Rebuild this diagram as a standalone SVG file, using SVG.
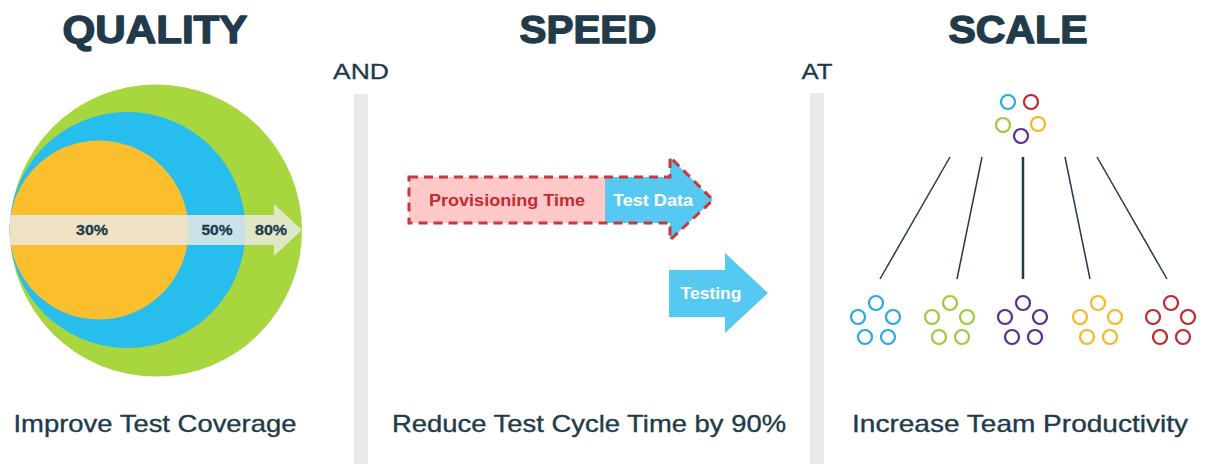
<svg xmlns="http://www.w3.org/2000/svg" width="1206" height="464" viewBox="0 0 1206 464">
<style>
.title{font-family:"Liberation Sans",Arial,sans-serif;font-weight:bold;font-size:39px;fill:#213B4B;stroke:#213B4B;stroke-width:1.4;stroke-linejoin:round;text-anchor:middle}
.conj{font-family:"Liberation Sans",Arial,sans-serif;font-size:22px;fill:#213B4B;stroke:#213B4B;stroke-width:0.3;text-anchor:middle}
.cap{font-family:"Liberation Sans",Arial,sans-serif;font-size:24px;fill:#213B4B;stroke:#213B4B;stroke-width:0.35;text-anchor:middle}
.pct{font-family:"Liberation Sans",Arial,sans-serif;font-weight:bold;font-size:14px;fill:#213B4B;stroke:#213B4B;stroke-width:0.3;text-anchor:middle}
.lbl{font-family:"Liberation Sans",Arial,sans-serif;font-weight:bold;font-size:16px;text-anchor:middle}
.sep{fill:#E8E9EA}
.ln{stroke:#213B4B;stroke-width:1.5;fill:none}
.c{fill:none;stroke-width:2.2}
.cb{stroke:#29A9E1}.cg{stroke:#9BCB3C}.cp{stroke:#5B2D90}.cy{stroke:#FBB624}.cr{stroke:#C1272D}
</style>
<defs>
<g id="pent">
<circle cx="0" cy="0" r="7"/>
<circle cx="-18" cy="14" r="7"/>
<circle cx="17" cy="14" r="7"/>
<circle cx="-11" cy="34" r="7"/>
<circle cx="12" cy="34" r="7"/>
</g>
</defs>
<rect width="1206" height="464" fill="#ffffff"/>

<g id="titles">
<text class="title" x="155" y="43" textLength="185" lengthAdjust="spacingAndGlyphs">QUALITY</text>
<text class="title" x="588" y="43" textLength="137" lengthAdjust="spacingAndGlyphs">SPEED</text>
<text class="title" x="1018" y="43" textLength="139" lengthAdjust="spacingAndGlyphs">SCALE</text>
<text class="conj" x="361" y="79" textLength="56" lengthAdjust="spacingAndGlyphs">AND</text>
<text class="conj" x="817" y="79" textLength="31" lengthAdjust="spacingAndGlyphs">AT</text>
</g>

<g id="separators">
<rect class="sep" x="354" y="94" width="14" height="370"/>
<rect class="sep" x="810" y="93" width="14" height="371"/>
</g>

<g id="quality">
<circle cx="156" cy="230.5" r="146" fill="#A8D63F"/>
<circle cx="127.5" cy="230" r="118" fill="#27BEEE"/>
<circle cx="99" cy="230" r="89.5" fill="#FBBE2C"/>
<path d="M10,215 H274 V204 L302,230 L274,256 V245 H10 Z" fill="#EBEAE5" fill-opacity="0.82"/>
<text class="pct" x="92" y="235" textLength="32" lengthAdjust="spacingAndGlyphs">30%</text>
<text class="pct" x="217" y="235" textLength="31" lengthAdjust="spacingAndGlyphs">50%</text>
<text class="pct" x="271" y="235" textLength="32" lengthAdjust="spacingAndGlyphs">80%</text>
<text class="cap" x="155" y="432" textLength="283" lengthAdjust="spacingAndGlyphs">Improve Test Coverage</text>
</g>

<g id="speed">
<rect x="409" y="177" width="196" height="46" fill="#FFC9CA"/>
<path d="M605,177 H670 V157 L713,200 L670,240 V223 H605 Z" fill="#55C9F2"/>
<path d="M409,177 H670 V157 L713,200 L670,240 V223 H409 Z" fill="none" stroke="#C9373F" stroke-width="3" stroke-dasharray="9,6"/>
<text class="lbl" x="507" y="206" fill="#C8282F" textLength="156" lengthAdjust="spacingAndGlyphs">Provisioning Time</text>
<text class="lbl" x="653" y="206" fill="#ffffff" textLength="80" lengthAdjust="spacingAndGlyphs">Test Data</text>
</g>

<g id="testing">
<path d="M669,270 H725 V253 L768,293 L725,333 V317 H669 Z" fill="#55C9F2"/>
<text class="lbl" x="711" y="299" fill="#ffffff" textLength="61" lengthAdjust="spacingAndGlyphs">Testing</text>
<text class="cap" x="589" y="432" textLength="394" lengthAdjust="spacingAndGlyphs">Reduce Test Cycle Time by 90%</text>
</g>

<g id="team-top">
<circle class="c cb" cx="1008" cy="102" r="7"/>
<circle class="c cr" cx="1031" cy="102" r="7"/>
<circle class="c cg" cx="1003" cy="125" r="7"/>
<circle class="c cy" cx="1038" cy="124" r="7"/>
<circle class="c cp" cx="1021" cy="136" r="7"/>
</g>

<g id="connectors">
<line class="ln" x1="950" y1="157" x2="880" y2="279"/>
<line class="ln" x1="982" y1="157" x2="957" y2="279"/>
<line class="ln" x1="1023" y1="157" x2="1023" y2="279" style="stroke-width:2.5"/>
<line class="ln" x1="1065" y1="157" x2="1090" y2="279"/>
<line class="ln" x1="1097" y1="157" x2="1167" y2="279"/>
</g>

<g id="team-blue" class="c cb"><use href="#pent" x="876" y="303"/></g>
<g id="team-green" class="c cg"><use href="#pent" x="950" y="303"/></g>
<g id="team-purple" class="c cp"><use href="#pent" x="1023" y="303"/></g>
<g id="team-yellow" class="c cy"><use href="#pent" x="1098" y="303"/></g>
<g id="team-red" class="c cr"><use href="#pent" x="1171" y="303"/></g>

<g id="scale-caption">
<text class="cap" x="1020" y="432" textLength="336" lengthAdjust="spacingAndGlyphs">Increase Team Productivity</text>
</g>
</svg>
